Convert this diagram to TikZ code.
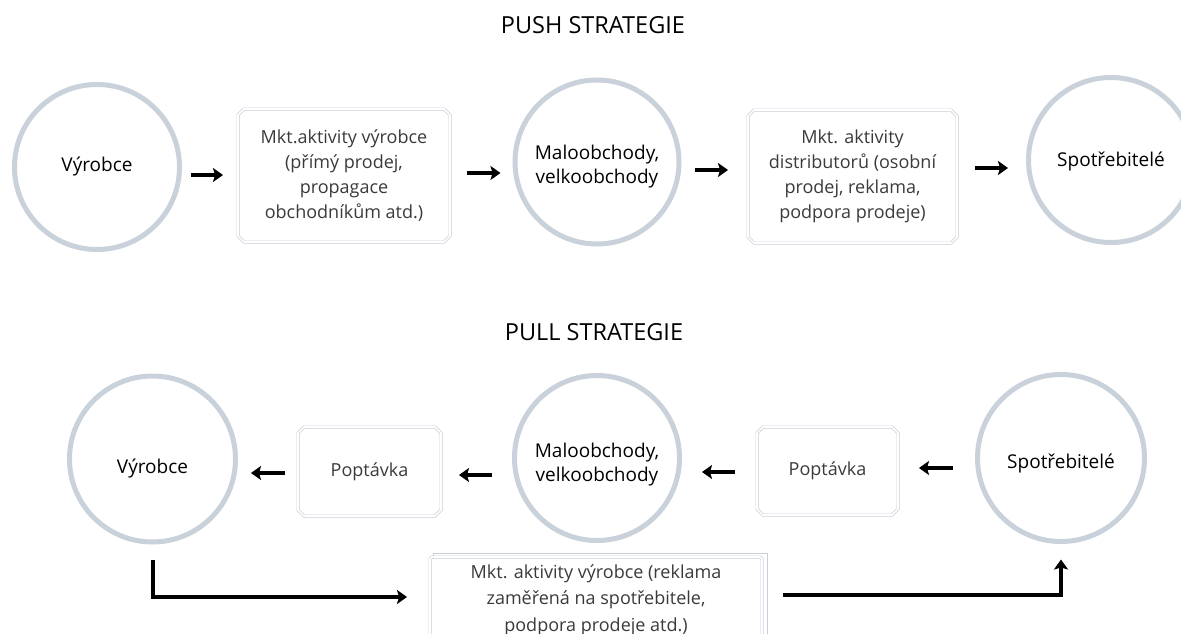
\documentclass[tikz,border=0pt]{standalone}
\usepackage{fontspec}
\setmainfont{Open Sans}
\usetikzlibrary{arrows.meta,shapes.misc,calc}
\definecolor{ringcol}{HTML}{C9D1DA}
\definecolor{boxcol}{HTML}{C8CED6}
\definecolor{lighttext}{HTML}{3A3A3A}
\newcommand{\lowered}[2]{\raisebox{-#1}[\height][\depth]{\begin{tabular}{@{}c@{}}#2\end{tabular}}}
\begin{document}
\begin{tikzpicture}[x=1pt,y=-1pt,
  ring/.style={circle,draw=ringcol,line width=5pt,inner sep=0pt,outer sep=0pt,
    align=center,font=\fontsize{19}{23.5}\selectfont},
  box/.style={chamfered rectangle,chamfered rectangle xsep=3pt,chamfered rectangle ysep=3pt,
    draw=boxcol,line width=0.7pt,double=white,double distance=1.6pt,
    inner sep=0pt,outer sep=0pt,align=center,text=lighttext,
    font=\fontsize{18}{25}\selectfont},
  title/.style={font=\fontsize{23.5}{27}\selectfont,inner sep=0pt},
  arr/.style={line width=4pt,-{Stealth[length=10pt,width=14pt,inset=2pt]}}
]
\useasboundingbox (0,0) rectangle (1181,634);
\clip (0,0) rectangle (1181,634);
% titles
\node[title] (t1) at (593,25) {PUSH STRATEGIE};
\node[title] (t2) at (594,332) {PULL STRATEGIE};
% push row
\node[ring,minimum size=165pt] (c1) at (97,167) {Výrobce};
\node[box,minimum width=212pt,minimum height=133pt] (b1) at (344,175.5)
  {Mkt.aktivity výrobce\\(přímý prodej,\\propagace\\obchodníkům atd.)};
\node[ring,minimum size=164pt] (c2) at (597,162) {\lowered{5pt}{Maloobchody,\\velkoobchody}};
\node[box,minimum width=209pt,minimum height=133pt] (b2) at (852.5,176.5)
  {Mkt. aktivity\\distributorů (osobní\\prodej, reklama,\\podpora prodeje)};
\node[ring,minimum size=165pt] (c3) at (1111,160) {\lowered{2pt}{Spotřebitelé}};
\draw[arr,shorten <=11.5pt,shorten >=15pt] (c1.east |- 0,175) -- (b1.west |- 0,175);
\draw[arr,shorten <=17pt,shorten >=14.5pt] (b1.east |- 0,173) -- (c2.west |- 0,173);
\draw[arr,shorten <=15.5pt,shorten >=20pt] (c2.east |- 0,170) -- (b2.west |- 0,170);
\draw[arr,shorten <=18pt,shorten >=20.5pt] (b2.east |- 0,168) -- (c3.west |- 0,168);
% pull row
\node[ring,minimum size=166pt] (d1) at (152.5,459) {\lowered{10pt}{Výrobce}};
\node[box,minimum width=143pt,minimum height=89pt] (p1) at (369.5,471.5) {Poptávka};
\node[ring,minimum size=165pt] (d2) at (597,458) {\lowered{7pt}{Maloobchody,\\velkoobchody}};
\node[box,minimum width=141pt,minimum height=88pt] (p2) at (827.5,471) {Poptávka};
\node[ring,minimum size=167pt] (d3) at (1061,458) {\lowered{6pt}{Spotřebitelé}};
\draw[boxcol,line width=0.7pt] (433,553) rectangle (767,650);
\node[box,chamfered rectangle xsep=1pt,chamfered rectangle ysep=1pt,fill=white,
  minimum width=332pt,minimum height=86pt,font=\fontsize{18}{26.5}\selectfont] (m) at (596,600)
  {Mkt. aktivity výrobce (reklama\\zaměřená na spotřebitele,\\podpora prodeje atd.)};
\draw[arr,shorten <=13pt,shorten >=15.5pt] (p1.west |- 0,473) -- (d1.east |- 0,473);
\draw[arr,shorten <=22.5pt,shorten >=18pt] (d2.west |- 0,475) -- (p1.east |- 0,475);
\draw[arr,shorten <=22pt,shorten >=22.5pt] (p2.west |- 0,472) -- (d2.east |- 0,472);
\draw[arr,shorten <=25pt,shorten >=21pt] (d3.west |- 0,468) -- (p2.east |- 0,468);
\draw[arr,shorten <=18pt,shorten >=23pt] (d1.south) |- (m.west |- 0,597);
\draw[arr,shorten <=21pt,shorten >=18pt] (m.east |- 0,595) -| (d3.south);
\end{tikzpicture}
\end{document}
